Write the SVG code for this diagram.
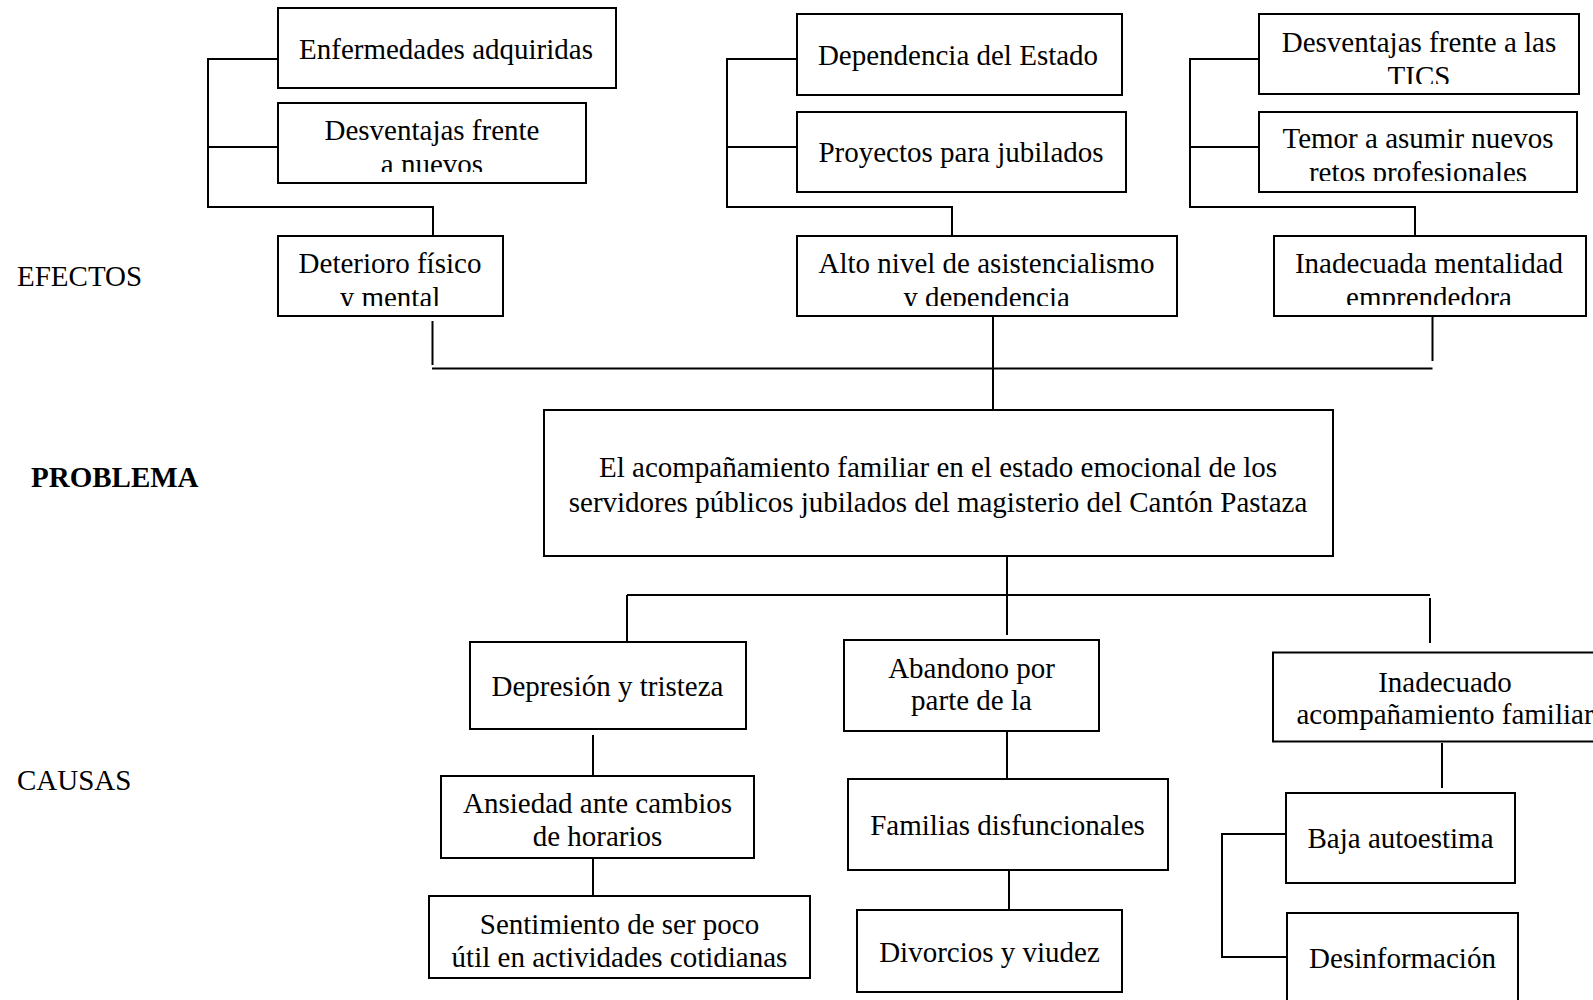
<svg xmlns="http://www.w3.org/2000/svg" width="1593" height="1000" viewBox="0 0 1593 1000">
<style>
.box{fill:#fff;stroke:#000;stroke-width:2}
.t{font-family:"Liberation Serif","Times New Roman",serif;font-size:29px;fill:#000;text-anchor:middle}
.lbl{font-family:"Liberation Serif","Times New Roman",serif;font-size:29px;fill:#000}
.con{fill:none;stroke:#000;stroke-width:2}
</style>
<defs>
<clipPath id="c1"><rect x="278" y="103" width="308" height="69"/></clipPath>
<clipPath id="c2"><rect x="278" y="236" width="225" height="70"/></clipPath>
<clipPath id="c3"><rect x="797" y="236" width="380" height="70"/></clipPath>
<clipPath id="c4"><rect x="1259" y="14" width="320" height="70"/></clipPath>
<clipPath id="c5"><rect x="1259" y="112" width="318" height="69"/></clipPath>
<clipPath id="c6"><rect x="1274" y="236" width="312" height="69"/></clipPath>
</defs>
<rect width="1593" height="1000" fill="#fff"/>
<g id="connectors">
<path class="con" d="M278,59 H208 V207 H433 V236 M208,147 H278"/>
<path class="con" d="M797,59 H727 V207 H952 V236 M727,147 H797"/>
<path class="con" d="M1259,59 H1190 V207 H1415 V236 M1190,147 H1259"/>
<path class="con" d="M432.5,321 V365 M993,316 V410 M1432.5,316 V361 M432,368.5 H1432.5"/>
<path class="con" d="M1007,556 V635 M627,595 H1430 M627,595 V641 M1430,598 V643"/>
<path class="con" d="M593,735 V775 M593,858 V896"/>
<path class="con" d="M1007,731 V779 M1009,870 V910"/>
<path class="con" d="M1442,743 V788 M1288,834 H1222 V957 H1287"/>
</g>
<g id="labels">
<text class="lbl" x="17" y="286">EFECTOS</text>
<text class="lbl" x="31" y="487" font-weight="bold">PROBLEMA</text>
<text class="lbl" x="17" y="790">CAUSAS</text>
</g>
<g id="n-enfermedades"><rect class="box" x="278" y="8" width="338" height="80"/><text class="t" x="446" y="59">Enfermedades adquiridas</text></g>
<g id="n-desventajas-nuevos"><rect class="box" x="278" y="103" width="308" height="80"/><g clip-path="url(#c1)"><text class="t" x="432" y="140">Desventajas frente</text><text class="t" x="432" y="173.5">a nuevos</text></g></g>
<g id="n-deterioro"><rect class="box" x="278" y="236" width="225" height="80"/><g clip-path="url(#c2)"><text class="t" x="390" y="273.3">Deterioro físico</text><text class="t" x="390" y="307">y mental</text></g></g>
<g id="n-dependencia"><rect class="box" x="797" y="14" width="325" height="81"/><text class="t" x="958" y="65">Dependencia del Estado</text></g>
<g id="n-proyectos"><rect class="box" x="797" y="112" width="329" height="80"/><text class="t" x="961" y="161.7">Proyectos para jubilados</text></g>
<g id="n-alto-nivel"><rect class="box" x="797" y="236" width="380" height="80"/><g clip-path="url(#c3)"><text class="t" x="986.5" y="273.3">Alto nivel de asistencialismo</text><text class="t" x="986.5" y="307">y dependencia</text></g></g>
<g id="n-tics"><rect class="box" x="1259" y="14" width="320" height="80"/><g clip-path="url(#c4)"><text class="t" x="1419" y="52.3">Desventajas frente a las</text><text class="t" x="1419" y="85.8">TICS</text></g></g>
<g id="n-temor"><rect class="box" x="1259" y="112" width="318" height="80"/><g clip-path="url(#c5)"><text class="t" x="1418" y="148.3">Temor a asumir nuevos</text><text class="t" x="1418" y="181.8">retos profesionales</text></g></g>
<g id="n-mentalidad"><rect class="box" x="1274" y="236" width="312" height="80"/><g clip-path="url(#c6)"><text class="t" x="1429" y="273.3">Inadecuada mentalidad</text><text class="t" x="1429" y="307">emprendedora</text></g></g>
<g id="n-problema"><rect class="box" x="544" y="410" width="789" height="146"/><text class="t" x="938" y="476.7">El acompañamiento familiar en el estado emocional de los</text><text class="t" x="938" y="511.7">servidores públicos jubilados del magisterio del Cantón Pastaza</text></g>
<g id="n-depresion"><rect class="box" x="470" y="642" width="276" height="87"/><text class="t" x="607.5" y="696">Depresión y tristeza</text></g>
<g id="n-ansiedad"><rect class="box" x="441" y="776" width="313" height="82"/><text class="t" x="597.5" y="813.3">Ansiedad ante cambios</text><text class="t" x="597.5" y="846">de horarios</text></g>
<g id="n-sentimiento"><rect class="box" x="429" y="896" width="381" height="82"/><text class="t" x="619.5" y="934.3">Sentimiento de ser poco</text><text class="t" x="619.5" y="966.7">útil en actividades cotidianas</text></g>
<g id="n-abandono"><rect class="box" x="844" y="640" width="255" height="91"/><text class="t" x="971.5" y="678.3">Abandono por</text><text class="t" x="971.5" y="710">parte de la</text></g>
<g id="n-familias"><rect class="box" x="848" y="779" width="320" height="91"/><text class="t" x="1007.5" y="835">Familias disfuncionales</text></g>
<g id="n-divorcios"><rect class="box" x="857" y="910" width="265" height="82"/><text class="t" x="989.5" y="961.7">Divorcios y viudez</text></g>
<g id="n-inadecuado"><rect class="box" x="1273" y="652.5" width="344" height="89"/><text class="t" x="1445" y="691.7">Inadecuado</text><text class="t" x="1445" y="724.3">acompañamiento familiar</text></g>
<g id="n-baja"><rect class="box" x="1286" y="793" width="229" height="90"/><text class="t" x="1400.5" y="848.3">Baja autoestima</text></g>
<g id="n-desinformacion"><rect class="box" x="1287" y="913" width="231" height="100"/><text class="t" x="1402.5" y="968.3">Desinformación</text></g>
</svg>
